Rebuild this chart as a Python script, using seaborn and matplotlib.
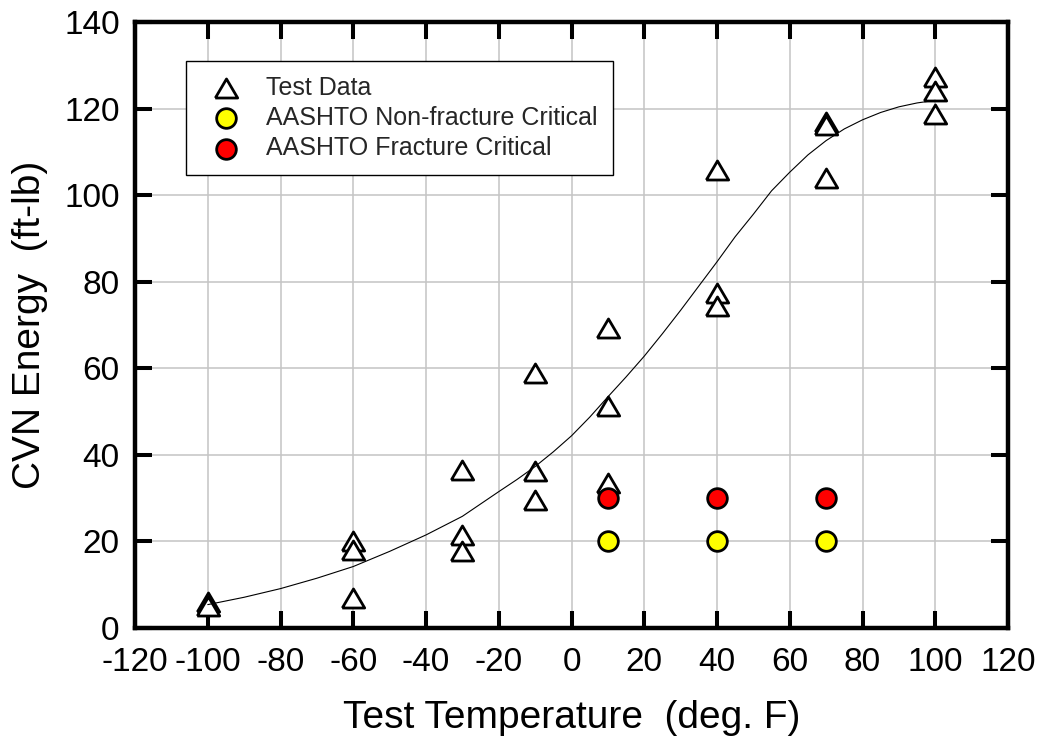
import matplotlib
matplotlib.use("Agg")
import matplotlib.pyplot as plt
import seaborn as sns
import pandas as pd

# ---- data ----
test_temp = [-100, -100, -60, -60, -60, -30, -30, -30, -10, -10, -10,
             10, 10, 10, 40, 40, 40, 70, 70, 70, 100, 100, 100]
test_cvn = [6, 5, 20, 18, 6.9, 36.5, 21.5, 17.7, 58.9, 36.3, 29.5,
            69.2, 51.2, 33.5, 105.8, 77.3, 74.5, 117.0, 116.3, 104.0, 127.2, 124.0, 118.7]

aashto_temp = [10, 40, 70]
aashto_nonfc = [20, 20, 20]
aashto_fc = [30, 30, 30]

curve_temp = [-100, -90, -80, -70, -60, -50, -40, -30, -20, -15, -10, -5, 0,
              5, 10, 15, 20, 25, 30, 35, 40, 45, 50, 55, 60, 65, 70,
              75, 80, 85, 90, 95, 100]
curve_cvn = [5.4, 7.1, 9.1, 11.5, 14.2, 17.7, 21.5, 25.8, 31.5, 34.3, 37.3, 40.7, 44.4,
             48.7, 53.4, 58.0, 62.8, 68.0, 73.4, 79.0, 84.6, 90.4, 95.6, 101.0, 105.3, 109.3, 112.6,
             115.3, 117.4, 119.1, 120.4, 121.3, 121.9]

x_ticks = list(range(-120, 121, 20))
y_ticks = list(range(0, 141, 20))

test_df = pd.DataFrame({"T": test_temp, "E": test_cvn})
nonfc_df = pd.DataFrame({"T": aashto_temp, "E": aashto_nonfc})
fc_df = pd.DataFrame({"T": aashto_temp, "E": aashto_fc})
curve_df = pd.DataFrame({"T": curve_temp, "E": curve_cvn})

sns.set_theme(style="white")
plt.rcParams["font.family"] = ["Liberation Sans", "DejaVu Sans"]

fig = plt.figure(figsize=(10.41, 7.43), dpi=100)
ax = fig.add_axes([135 / 1041, 1 - 628 / 743, 873 / 1041, 606 / 743])

tri = [(-1, -0.85), (1, -0.85), (0, 0.85), (-1, -0.85)]
tri_size = 260
circ_size = 200

sns.scatterplot(data=test_df, x="T", y="E", ax=ax, marker=tri, s=tri_size,
                facecolor="white", edgecolor="black", linewidth=2.0,
                label="Test Data", zorder=3)
sns.scatterplot(data=nonfc_df, x="T", y="E", ax=ax, marker="o", s=circ_size,
                color="#ffff00", edgecolor="black", linewidth=2.0,
                label="AASHTO Non-fracture Critical", zorder=3)
sns.scatterplot(data=fc_df, x="T", y="E", ax=ax, marker="o", s=circ_size,
                color="#ff0000", edgecolor="black", linewidth=2.0,
                label="AASHTO Fracture Critical", zorder=3)
sns.lineplot(data=curve_df, x="T", y="E", ax=ax, color="black", linewidth=0.8,
             sort=False, zorder=4, legend=False)

ax.set_xlim(-120, 120)
ax.set_ylim(0, 140)
ax.set_xticks(x_ticks)
ax.set_yticks(y_ticks)
ax.set_xticklabels([str(v) for v in x_ticks])
ax.set_yticklabels([str(v) for v in y_ticks])

ax.grid(True, color="#c4c4c4", linewidth=1.1)
ax.set_axisbelow(True)
for sp in ax.spines.values():
    sp.set_visible(True)
    sp.set_color("black")
    sp.set_linewidth(3.2)
    sp.set_zorder(5)

ax.tick_params(axis="both", which="major", direction="in", length=12.5, width=2.9,
               color="black", top=True, right=True, bottom=True, left=True,
               labelsize=24, labelcolor="black")
ax.tick_params(axis="x", pad=14)
ax.tick_params(axis="y", pad=11)

ax.set_xlabel("Test Temperature  (deg. F)", fontsize=28, color="black")
ax.set_ylabel("CVN Energy  (ft-lb)", fontsize=28, color="black")
ax.xaxis.set_label_coords(0.5, -0.118)
ax.yaxis.set_label_coords(-0.10, 0.5)

leg = ax.legend(loc="upper left", bbox_to_anchor=(0.0584, 0.936), borderaxespad=0,
                fontsize=18, frameon=True, fancybox=False, shadow=False,
                handlelength=2.0, handletextpad=0.62, borderpad=0.6,
                labelspacing=0.25, framealpha=1, scatterpoints=1)
handles = leg.legend_handles
handles[0].set_sizes([tri_size])
handles[1].set_sizes([circ_size])
handles[2].set_sizes([circ_size])
leg.get_frame().set_edgecolor("black")
leg.get_frame().set_linewidth(1.0)
leg.set_zorder(6)

fig.savefig("out.png", dpi=100)
